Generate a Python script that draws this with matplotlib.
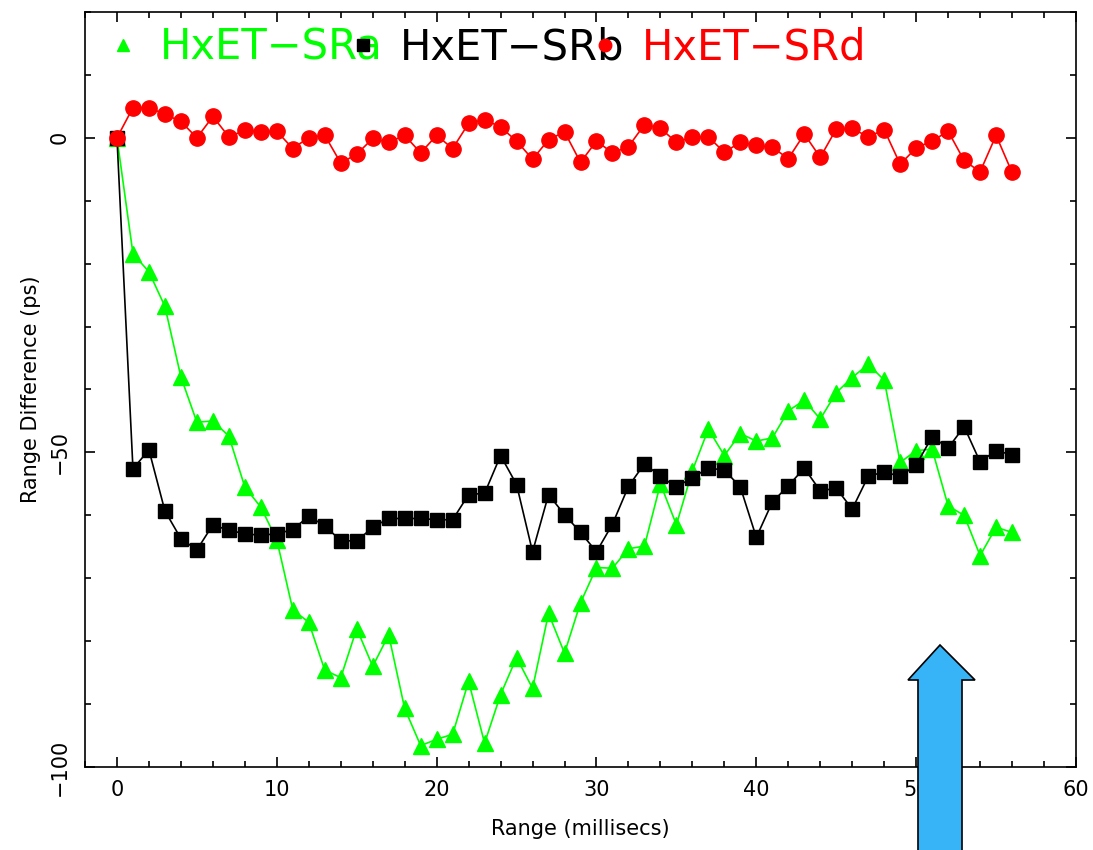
import numpy as np
import matplotlib
matplotlib.use('Agg')
import matplotlib.pyplot as plt
from matplotlib.lines import Line2D
from matplotlib.patches import Polygon
from matplotlib.ticker import MultipleLocator

# range differences (ps) per millisecond of range
range_ms = np.arange(57)
sra = [0, -18.4, -21.3, -26.8, -38.0, -45.2, -45.0, -47.4, -55.5, -58.7, -63.9,
       -75.0, -77.0, -84.6, -85.8, -78.0, -84.0, -79.0, -90.7, -96.6, -95.6,
       -94.8, -86.4, -96.2, -88.5, -82.6, -87.5, -75.6, -81.9, -73.9, -68.3,
       -68.4, -65.3, -64.9, -55.0, -61.5, -52.9, -46.3, -50.5, -47.0, -48.2,
       -47.7, -43.4, -41.7, -44.7, -40.5, -38.1, -36.0, -38.5, -51.6, -49.7,
       -49.5, -58.5, -60.0, -66.4, -61.9, -62.7]
srb = [0, -52.6, -49.6, -59.3, -63.7, -65.5, -61.5, -62.4, -62.9, -63.2, -62.9,
       -62.3, -60.1, -61.7, -64.0, -64.1, -61.9, -60.5, -60.5, -60.5, -60.7,
       -60.7, -56.7, -56.5, -50.5, -55.1, -65.8, -56.7, -59.9, -62.7, -65.8,
       -61.4, -55.4, -51.8, -53.8, -55.5, -54.0, -52.5, -52.8, -55.5, -63.5,
       -57.9, -55.3, -52.5, -56.1, -55.7, -59.0, -53.8, -53.1, -53.8, -52.0,
       -47.5, -49.3, -45.9, -51.5, -49.7, -50.4]
srd = [0, 4.8, 4.8, 3.75, 2.6, 0.0, 3.4, 0.15, 1.2, 0.95, 1.05,
       -1.7, 0.05, 0.4, -4.0, -2.6, -0.1, -0.7, 0.4, -2.4, 0.4,
       -1.7, 2.3, 2.9, 1.7, -0.5, -3.4, -0.3, 0.95, -3.9, -0.5,
       -2.4, -1.4, 2.1, 1.5, -0.7, 0.15, 0.15, -2.3, -0.7, -1.2,
       -1.5, -3.3, 0.6, -3.1, 1.4, 1.5, 0.15, 1.3, -4.2, -1.6,
       -0.5, 1.05, -3.6, -5.4, 0.4, -5.5]
names = ['HxET\u2212SRa', 'HxET\u2212SRb', 'HxET\u2212SRd']
colors = ['#00ff00', 'black', '#ff0000']
markers = ['^', 's', 'o']

fig = plt.figure(figsize=(10.93, 8.5), dpi=100)
ax = fig.add_axes([85/1093, 1 - 767/850, (1076-85)/1093, (767-12)/850])

ax.plot(range_ms, sra, color=colors[0], lw=1.2, marker='^', ms=11, mec=colors[0], zorder=3)
ax.plot(range_ms, srb, color=colors[1], lw=1.2, marker='s', ms=10, mec=colors[1], zorder=4)
ax.plot(range_ms, srd, color=colors[2], lw=1.2, marker='o', ms=11, mec=colors[2], zorder=5)

ax.set_xlim(-2, 60)
ax.set_ylim(-100, 20)
ax.xaxis.set_major_locator(MultipleLocator(10))
ax.xaxis.set_minor_locator(MultipleLocator(2))
ax.yaxis.set_major_locator(MultipleLocator(50))
ax.yaxis.set_minor_locator(MultipleLocator(10))
ax.tick_params(which='both', direction='in', top=True, right=True, width=1.2)
ax.tick_params(which='major', length=7)
ax.tick_params(which='minor', length=4)
ax.tick_params(axis='x', labelsize=15, pad=9)
ax.tick_params(axis='y', labelsize=15, pad=11)
for lbl in ax.get_yticklabels():
    lbl.set_rotation(90)
    lbl.set_va('center')
for s in ax.spines.values():
    s.set_linewidth(1.2)

ax.set_xlabel('Range (millisecs)', fontsize=15, labelpad=14)
ax.set_ylabel('Range Difference (ps)', fontsize=15, labelpad=6)

handles = [Line2D([], [], ls='none', marker=m, ms=9, color=c, mec=c)
           for m, c in zip(markers, colors)]
leg = ax.legend(handles, names, ncol=3, loc='upper left',
                bbox_to_anchor=(0.026, 0.981), frameon=False, fontsize=30,
                handlelength=0.6, handletextpad=0.59, columnspacing=-0.78,
                borderpad=0, borderaxespad=0)
for t, c in zip(leg.get_texts(), colors):
    t.set_color(c)

# blue pointer arrow at the lower right
pts = np.array([(940, 645), (975, 680), (962, 680), (962, 852),
                (918, 852), (918, 680), (908, 680)], dtype=float)
pts[:, 0] /= 1093
pts[:, 1] = 1 - pts[:, 1] / 850
fig.patches.append(Polygon(pts, closed=True, transform=fig.transFigure,
                           facecolor='#36b4f7', edgecolor='black', lw=1.2))

fig.savefig('out.png', dpi=100)
